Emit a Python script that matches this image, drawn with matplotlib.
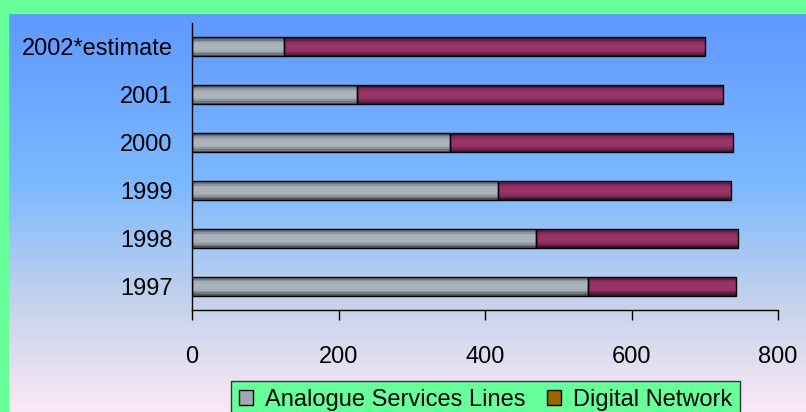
import matplotlib.pyplot as plt
import numpy as np
from matplotlib.patches import Patch, Rectangle
from matplotlib.colors import LinearSegmentedColormap

plt.rcParams['font.family'] = ['Liberation Sans', 'DejaVu Sans']

years = ['1997', '1998', '1999', '2000', '2001', '2002*estimate']
analogue = [541, 469, 418, 352, 225, 125]
digital = [202, 276, 318, 386, 500, 575]
xticks = [0, 200, 400, 600, 800]

fig = plt.figure(figsize=(8.06, 4.12), dpi=100)

# background: green strips at left/top, gradient inside
bg = fig.add_axes([0, 0, 1, 1], zorder=-10)
bg.set_axis_off()
grad = LinearSegmentedColormap.from_list('bg', [
    (0.0, (93/255, 150/255, 255/255)),
    (0.45, (125/255, 185/255, 255/255)),
    (0.75, (200/255, 212/255, 235/255)),
    (1.0, (250/255, 232/255, 246/255))])
bg.imshow(np.linspace(0, 1, 256).reshape(-1, 1), aspect='auto', cmap=grad,
          extent=[0, 1, 0, 1], origin='upper')
bg.add_patch(Rectangle((0, 0), 8/806, 1, color='#66ff99', transform=bg.transAxes))
bg.add_patch(Rectangle((0, 1-13/412), 1, 13/412, color='#66ff99', transform=bg.transAxes))
bg.set_xlim(0, 1)
bg.set_ylim(0, 1)

ax = fig.add_axes([192/806, 1-310/412, 586/806, 287/412])
ax.patch.set_alpha(0)

y = np.arange(len(years))
h = 0.4
gray_shades = ['#4f565e', '#6f7780', '#8c949c', '#a4acb4', '#aab2ba']
maroon_shades = ['#3e1530', '#5e2248', '#7a2a58', '#8e3163', '#993366']
for i, (gs, ms) in enumerate(zip(gray_shades, maroon_shades)):
    hh = h * (1 - i * 0.17)
    ax.barh(y, analogue, height=hh, color=gs, linewidth=0)
    ax.barh(y, digital, left=analogue, height=hh, color=ms, linewidth=0)
ax.barh(y, analogue, height=h, color='none', edgecolor='black', linewidth=1)
ax.barh(y, digital, left=analogue, height=h, color='none', edgecolor='black', linewidth=1)

ax.set_xlim(0, 800)
ax.set_ylim(-0.5, len(years) - 0.5)
ax.set_xticks(xticks)
ax.set_yticks(y)
ax.set_yticklabels(years)
ax.tick_params(axis='x', labelsize=17, length=7, width=1, pad=19)
ax.tick_params(axis='y', labelsize=17, length=0, pad=14)
for s in ['top', 'right']:
    ax.spines[s].set_visible(False)
for s in ['left', 'bottom']:
    ax.spines[s].set_linewidth(1)

handles = [Patch(facecolor='#a0a8b0', edgecolor='black'),
           Patch(facecolor='#996600', edgecolor='black')]
leg = fig.legend(handles, ['Analogue Services Lines', 'Digital Network'],
                 loc='upper center', bbox_to_anchor=(485.5/806, 1-381/412),
                 ncol=2, fontsize=17, frameon=True, fancybox=False,
                 handlelength=0.6, handleheight=0.6, handletextpad=0.5,
                 columnspacing=0.9, borderpad=0.32, borderaxespad=0)
leg.get_frame().set_facecolor('#66ff99')
leg.get_frame().set_edgecolor('#333333')
leg.get_frame().set_alpha(1)

fig.savefig('out.png', dpi=100)
